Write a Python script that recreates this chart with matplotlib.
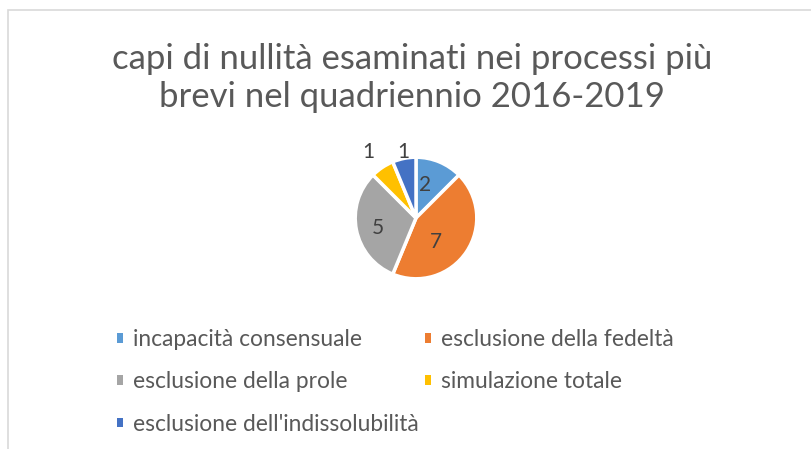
import numpy as np
import matplotlib.pyplot as plt
from matplotlib.patches import Rectangle

categories = ["incapacità consensuale", "esclusione della fedeltà",
              "esclusione della prole", "simulazione totale",
              "esclusione dell'indissolubilità"]
values = [2, 7, 5, 1, 1]
colors = ["#5B9BD5", "#ED7D31", "#A5A5A5", "#FFC000", "#4472C4"]
title = "capi di nullità esaminati nei processi più\nbrevi nel quadriennio 2016-2019"

# label placement tweaks (like Excel's best fit)
label_dist = [0.57, 0.51, 0.65, 1.33, 1.1]
label_shift = [7, -17, 4, 2, 0]

plt.rcParams['font.family'] = ['Lato', 'DejaVu Sans']

fig = plt.figure(figsize=(8.11, 4.49), dpi=100)

# chart area border
fig.patches.append(Rectangle((8 / 811, -0.01), 1.0, 1 - 10 / 449 + 0.01,
                             transform=fig.transFigure, fill=False,
                             edgecolor="#D9D9D9", linewidth=1.2))

fig.text(412 / 811, 1 - 78 / 449, title, ha="center", va="center",
         fontsize=25, color="#595959", linespacing=1.22)

# pie axes: center (416, 218), radius ~60 px
r = 62
ax = fig.add_axes([(416 - r) / 811, 1 - (218 + r) / 449, 2 * r / 811, 2 * r / 449])
wedges, texts = ax.pie(values, colors=colors, startangle=90, counterclock=False,
                       wedgeprops=dict(edgecolor="white", linewidth=2.5))
ax.set_xlim(-1.02, 1.02)
ax.set_ylim(-1.02, 1.02)
ax.set_aspect("equal")

total = sum(values)
start = 90.0
for i, v in enumerate(values):
    mid = start - 360.0 * v / total / 2 + label_shift[i]
    start -= 360.0 * v / total
    x = label_dist[i] * np.cos(np.radians(mid))
    y = label_dist[i] * np.sin(np.radians(mid))
    ax.text(x, y, str(v), ha="center", va="center", fontsize=15,
            color="#404040", clip_on=False)

order = [0, 2, 4, 1, 3]
handles = [Rectangle((0, 0), 1, 1, facecolor=colors[i]) for i in order]
labels = [categories[i] for i in order]
fig.legend(handles, labels, ncol=2, loc="upper left",
           bbox_to_anchor=(117 / 811, 1 - 329 / 449), frameon=False,
           borderpad=0, borderaxespad=0,
           fontsize=16.4, labelcolor="#595959", handlelength=0.27,
           handleheight=0.27, handletextpad=0.45, columnspacing=0.25,
           labelspacing=0.94)

fig.savefig("out.png", dpi=100)
